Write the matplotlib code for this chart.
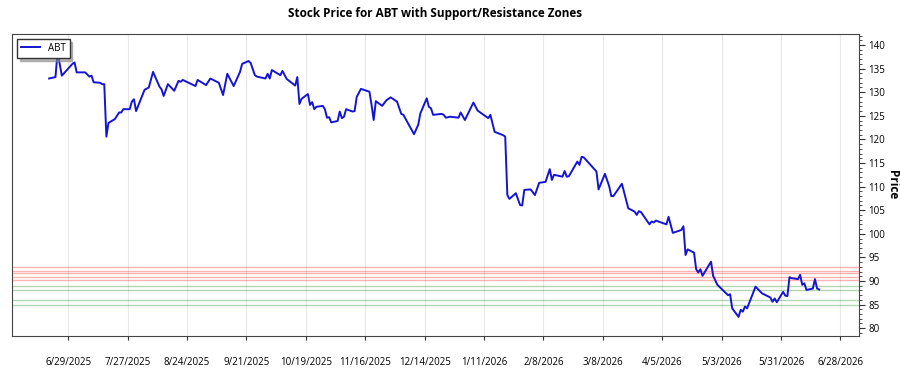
import pandas as pd
import matplotlib
matplotlib.use("Agg")
import matplotlib.pyplot as plt
from matplotlib.ticker import MultipleLocator

plt.rcParams['font.family'] = ['Open Sans', 'DejaVu Sans']

ticker = "ABT"

dates = ["2025-06-20", "2025-06-23", "2025-06-24", "2025-06-26", "2025-07-01", "2025-07-02",
         "2025-07-03", "2025-07-07", "2025-07-09", "2025-07-10", "2025-07-11", "2025-07-14",
         "2025-07-15", "2025-07-16", "2025-07-17", "2025-07-18", "2025-07-21", "2025-07-23",
         "2025-07-24", "2025-07-25", "2025-07-28", "2025-07-29", "2025-07-30", "2025-07-31",
         "2025-08-04", "2025-08-06", "2025-08-08", "2025-08-11", "2025-08-12", "2025-08-13",
         "2025-08-15", "2025-08-18", "2025-08-20", "2025-08-21", "2025-08-22", "2025-08-28",
         "2025-08-29", "2025-09-02", "2025-09-04", "2025-09-08", "2025-09-10", "2025-09-12",
         "2025-09-15", "2025-09-18", "2025-09-19", "2025-09-22", "2025-09-23", "2025-09-25",
         "2025-09-26", "2025-09-30", "2025-10-01", "2025-10-02", "2025-10-03", "2025-10-07",
         "2025-10-08", "2025-10-10", "2025-10-14", "2025-10-15", "2025-10-16", "2025-10-17",
         "2025-10-20", "2025-10-21", "2025-10-22", "2025-10-23", "2025-10-24", "2025-10-27",
         "2025-10-28", "2025-10-29", "2025-10-30", "2025-10-31", "2025-11-03", "2025-11-04",
         "2025-11-05", "2025-11-06", "2025-11-07", "2025-11-10", "2025-11-11", "2025-11-12",
         "2025-11-14", "2025-11-18", "2025-11-19", "2025-11-20", "2025-11-21", "2025-11-24",
         "2025-11-26", "2025-11-28", "2025-12-01", "2025-12-03", "2025-12-04", "2025-12-09",
         "2025-12-11", "2025-12-12", "2025-12-15", "2025-12-16", "2025-12-17", "2025-12-18",
         "2025-12-22", "2025-12-23", "2025-12-24", "2025-12-26", "2025-12-30", "2025-12-31",
         "2026-01-02", "2026-01-06", "2026-01-08", "2026-01-13", "2026-01-14", "2026-01-16",
         "2026-01-20", "2026-01-21", "2026-01-22", "2026-01-23", "2026-01-26", "2026-01-28",
         "2026-01-29", "2026-01-30", "2026-02-02", "2026-02-04", "2026-02-06", "2026-02-09",
         "2026-02-11", "2026-02-12", "2026-02-13", "2026-02-17", "2026-02-18", "2026-02-19",
         "2026-02-20", "2026-02-24", "2026-02-25", "2026-02-26", "2026-02-27", "2026-03-05",
         "2026-03-06", "2026-03-09", "2026-03-11", "2026-03-12", "2026-03-13", "2026-03-17",
         "2026-03-20", "2026-03-23", "2026-03-24", "2026-03-25", "2026-03-26", "2026-03-30",
         "2026-03-31", "2026-04-01", "2026-04-02", "2026-04-07", "2026-04-08", "2026-04-10",
         "2026-04-14", "2026-04-15", "2026-04-16", "2026-04-17", "2026-04-20", "2026-04-21",
         "2026-04-22", "2026-04-23", "2026-04-24", "2026-04-28", "2026-04-29", "2026-05-01",
         "2026-05-06", "2026-05-07", "2026-05-08", "2026-05-11", "2026-05-12", "2026-05-13",
         "2026-05-14", "2026-05-15", "2026-05-19", "2026-05-22", "2026-05-26", "2026-05-27",
         "2026-05-28", "2026-05-29", "2026-06-01", "2026-06-02", "2026-06-03", "2026-06-04",
         "2026-06-05", "2026-06-08", "2026-06-09", "2026-06-10", "2026-06-11", "2026-06-12",
         "2026-06-15", "2026-06-16", "2026-06-17", "2026-06-18"]

prices = [132.9, 133.2, 138.5, 133.5, 136.0, 136.3,
          134.2, 134.2, 133.3, 133.5, 132.1, 132.0,
          131.7, 131.7, 120.6, 123.5, 124.3, 125.7,
          125.7, 126.4, 126.4, 128.0, 128.5, 126.0,
          130.5, 131.0, 134.3, 131.2, 130.6, 129.2,
          131.7, 130.3, 132.4, 132.2, 132.6, 131.3,
          132.6, 131.5, 132.9, 132.0, 129.4, 133.9,
          131.3, 134.3, 136.0, 136.6, 136.2, 133.6,
          133.3, 132.9, 133.9, 132.9, 134.7, 133.6,
          134.5, 132.8, 131.4, 133.2, 127.5, 128.6,
          129.6, 127.3, 127.9, 126.4, 126.9, 127.1,
          126.4, 124.6, 124.7, 123.6, 123.9, 125.9,
          124.5, 124.8, 126.4, 125.9, 126.0, 129.0,
          130.7, 130.1, 127.3, 124.1, 128.1, 127.1,
          128.3, 128.9, 128.0, 125.4, 125.2, 121.1,
          123.1, 125.5, 128.7, 126.9, 126.6, 125.2,
          125.4, 125.2, 124.6, 124.8, 124.6, 125.7,
          124.1, 127.8, 126.1, 124.5, 125.2, 121.6,
          120.9, 120.6, 108.2, 107.4, 108.6, 106.1,
          106.0, 109.3, 109.4, 108.2, 110.8, 111.0,
          113.7, 111.4, 112.5, 112.1, 113.3, 112.1,
          112.2, 115.3, 114.6, 116.3, 116.2, 113.2,
          109.4, 112.7, 110.1, 108.0, 108.0, 110.6,
          105.4, 104.7, 104.0, 104.8, 104.6, 102.0,
          102.6, 102.4, 102.8, 102.0, 103.6, 100.2,
          100.8, 101.6, 95.5, 96.7, 96.0, 92.5,
          91.8, 92.5, 91.1, 94.1, 91.1, 89.2,
          87.0, 87.2, 84.2, 82.4, 83.9, 83.5,
          84.6, 84.2, 88.8, 87.4, 86.5, 85.6,
          86.3, 85.5, 87.7, 86.9, 86.8, 90.8,
          90.6, 90.4, 91.3, 89.2, 89.5, 88.1,
          88.4, 90.4, 88.4, 88.2]

resistance_levels = [92.9, 92.2, 91.6, 90.9, 90.2]
support_levels = [88.9, 88.0, 85.9, 84.9]

df = pd.DataFrame({"Date": pd.to_datetime(dates), "Close": prices})

fig = plt.figure(figsize=(9, 3.75), dpi=100)
ax = fig.add_axes([0.0133, 0.104, 0.941, 0.805])

ax.plot(df["Date"], df["Close"], color="#1414d2", linewidth=1.4, label=ticker, zorder=3)

for lvl in resistance_levels:
    ax.axhline(lvl, color="red", alpha=0.3, linewidth=1, zorder=2)
for lvl in support_levels:
    ax.axhline(lvl, color="green", alpha=0.3, linewidth=1, zorder=2)

first_tick = pd.Timestamp("2025-06-29")
ax.set_xlim(first_tick - pd.Timedelta(days=26.5), first_tick + pd.Timedelta(days=372.7))
ax.set_ylim(78.35, 142.3)

ticks = pd.date_range(first_tick, periods=14, freq="28D")
ax.set_xticks(ticks)
ax.set_xticklabels([f"{t.month}/{t.day}/{t.year}" for t in ticks], fontsize=7)
ax.tick_params(axis="x", length=3, pad=12, color="#333333")

ax.yaxis.tick_right()
ax.yaxis.set_label_position("right")
ax.yaxis.set_major_locator(MultipleLocator(5))
ax.yaxis.set_minor_locator(MultipleLocator(1))
ax.tick_params(axis="y", which="major", length=4, labelsize=7, pad=3, color="#333333")
ax.tick_params(axis="y", which="minor", length=2, color="#333333")
ax.set_ylabel("Price", fontsize=8.5, fontweight="bold", rotation=270, va="center")
ax.yaxis.set_label_coords(1.04, 0.5)

ax.grid(axis="x", color="#e8e8e8", linewidth=0.8, zorder=0)
for s in ax.spines.values():
    s.set_color("#444444")
    s.set_linewidth(0.8)

ax.set_title(f"Stock Price for {ticker} with Support/Resistance Zones",
             fontsize=8.5, fontweight="bold", pad=12)

leg = ax.legend(loc="upper left", fontsize=7, fancybox=False,
                shadow={"color": "#888888", "alpha": 0.6, "ox": 2, "oy": -2},
                framealpha=1, borderaxespad=0.5, handlelength=2)
leg.get_frame().set_edgecolor("#333333")

fig.savefig("out.png", dpi=100)
